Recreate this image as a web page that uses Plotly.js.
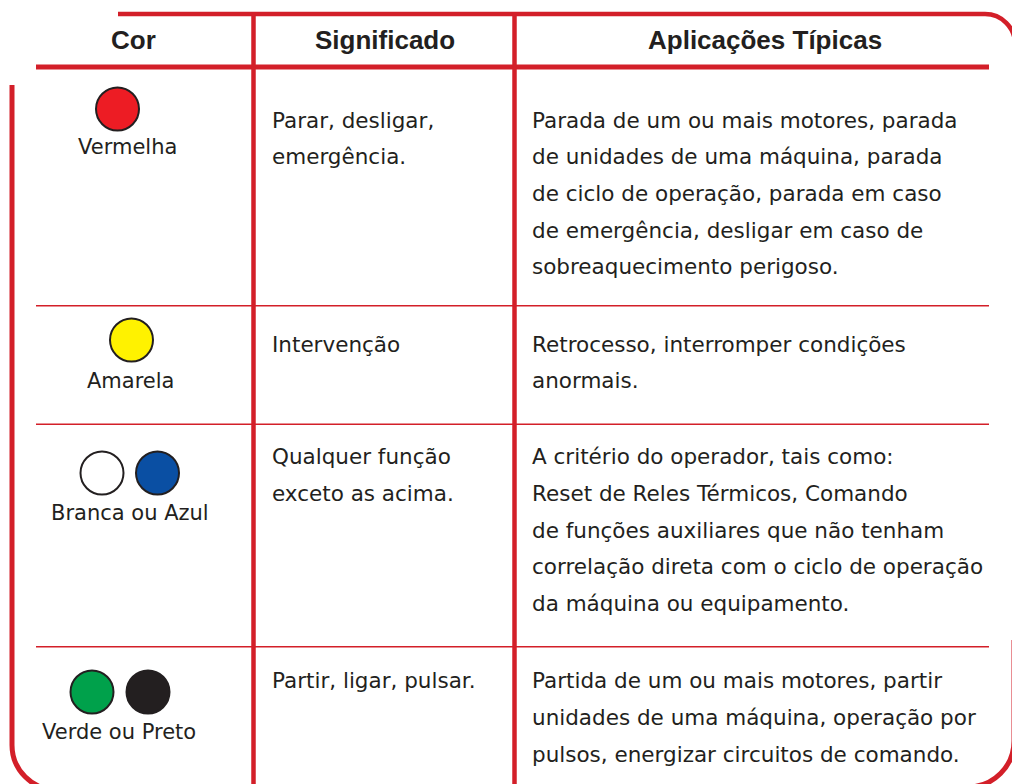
<!DOCTYPE html>
<html>
<head>
<meta charset="utf-8">
<script src="https://cdn.plot.ly/plotly-3.0.1.min.js"></script>
<style>
  html, body { margin: 0; padding: 0; background: #ffffff; overflow: hidden; }
  #chart { width: 1012px; height: 784px; }
</style>
</head>
<body>
<div id="chart"></div>
<script>
// ---------------- DATA ----------------
const headers = ['Cor', 'Significado', 'Aplicações Típicas'];
const colorNames = ['Vermelha', 'Amarela', 'Branca ou Azul', 'Verde ou Preto'];
const buttonFills = [
  ['#ed1c24'],
  ['#fff200'],
  ['#ffffff', '#0a4fa3'],
  ['#00a14b', '#231f20']
];
const meanings = [
  ['Parar, desligar,', 'emergência.'],
  ['Intervenção'],
  ['Qualquer função', 'exceto as acima.'],
  ['Partir, ligar, pulsar.']
];
const applications = [
  ['Parada de um ou mais motores, parada',
   'de unidades de uma máquina, parada',
   'de ciclo de operação, parada em caso',
   'de emergência, desligar em caso de',
   'sobreaquecimento perigoso.'],
  ['Retrocesso, interromper condições',
   'anormais.'],
  ['A critério do operador, tais como:',
   'Reset de Reles Térmicos, Comando',
   'de funções auxiliares que não tenham',
   'correlação direta com o ciclo de operação',
   'da máquina ou equipamento.'],
  ['Partida de um ou mais motores, partir',
   'unidades de uma máquina, operação por',
   'pulsos, energizar circuitos de comando.']
];

// ---------------- LAYOUT CONSTANTS ----------------
const W = 1012, H = 784;
const RED = '#d31f29';
const INK = '#231f20';
const BODY_FONT = 'DejaVu Sans';
const BODY_SIZE = 21.5;
const LABEL_SIZE = 21;
const HEAD_FONT = 'Liberation Sans';
const HEAD_SIZE = 26;

const HEAD_X = [133, 385, 765];
const HEAD_BASE = 49.5;
const ROW_BASE = [127.7, 351.7, 464.3, 688.3];
const LINE_STEP = 36.67;
const CIRCLE_Y = [109, 340, 473, 692];
const CIRCLE_X = [[117.5], [131.5], [102, 157.5], [92, 148]];
const LABEL_X = [127, 131, 130, 119];
const LABEL_BASE = [154, 388.3, 520.7, 739];
const COL2_X = 272, COL3_X = 532;
const SEP_Y = [305.7, 424.3, 646.7];

function midFromBase(base, size, asc, desc) {
  return base - (asc - desc) / 2 * size;
}

// ---------------- TRACES ----------------
const cx = [], cy = [], cfill = [];
buttonFills.forEach((fills, r) => {
  fills.forEach((f, i) => {
    cx.push(CIRCLE_X[r][i]);
    cy.push(CIRCLE_Y[r]);
    cfill.push(f);
  });
});
const circles = {
  type: 'scatter', mode: 'markers', x: cx, y: cy,
  marker: { size: 43, color: cfill, line: { color: INK, width: 2 } },
  hoverinfo: 'skip', showlegend: false
};

// ---------------- ANNOTATIONS ----------------
const ann = [];
headers.forEach((h, i) => {
  ann.push({
    x: HEAD_X[i], y: midFromBase(HEAD_BASE, HEAD_SIZE, 0.905, 0.212),
    xref: 'x', yref: 'y', text: '<b>' + h + '</b>', showarrow: false,
    xanchor: 'center', yanchor: 'middle', borderpad: 0, borderwidth: 0,
    font: { family: HEAD_FONT, size: HEAD_SIZE, color: INK }
  });
});
colorNames.forEach((n, r) => {
  ann.push({
    x: LABEL_X[r], y: midFromBase(LABEL_BASE[r], LABEL_SIZE, 0.928, 0.236),
    xref: 'x', yref: 'y', text: n, showarrow: false,
    xanchor: 'center', yanchor: 'middle', borderpad: 0, borderwidth: 0,
    font: { family: BODY_FONT, size: LABEL_SIZE, color: INK }
  });
});
function addLines(lines, r, xPos) {
  lines.forEach((t, k) => {
    ann.push({
      x: xPos, y: midFromBase(ROW_BASE[r] + k * LINE_STEP, BODY_SIZE, 0.928, 0.236),
      xref: 'x', yref: 'y', text: t, showarrow: false,
      xanchor: 'left', yanchor: 'middle', borderpad: 0, borderwidth: 0,
      font: { family: BODY_FONT, size: BODY_SIZE, color: INK }
    });
  });
}
meanings.forEach((lines, r) => addLines(lines, r, COL2_X));
applications.forEach((lines, r) => addLines(lines, r, COL3_X));

// ---------------- SHAPES ----------------
const k = 0.5523;
function lineShape(path, width) {
  return { type: 'path', xref: 'x', yref: 'y', path: path,
           line: { color: RED, width: width }, layer: 'below' };
}
const shapes = [];
// top border with rounded top-right corner
{
  const r = 30, x0 = 985, y0 = 14, xr = x0 + r;
  shapes.push(lineShape(
    `M118,${y0} L${x0},${y0} C${x0 + k * r},${y0} ${xr},${y0 + r - k * r} ${xr},${y0 + r} L${xr},140`, 4.5));
}
// left border with rounded bottom-left corner
{
  const r = 45, x0 = 12, yc = 745;
  shapes.push(lineShape(
    `M${x0},85 L${x0},${yc} C${x0},${yc + k * r} ${x0 + r - k * r},${yc + r} ${x0 + r},${yc + r} L140,${yc + r}`, 5));
}
// bottom-right corner
{
  const r = 46, xc = 968, yc = 741, xr = xc + r;
  shapes.push(lineShape(
    `M${xr},640 L${xr},${yc} C${xr},${yc + k * r} ${xc + k * r},${yc + r} ${xc},${yc + r} L880,${yc + r}`, 5));
}
// header bottom line
shapes.push(lineShape('M36,67 L989,67', 5));
// column dividers
shapes.push(lineShape('M253.5,14 L253.5,790', 4.5));
shapes.push(lineShape('M514.5,14 L514.5,790', 4.5));
// row separators
SEP_Y.forEach(y => shapes.push(lineShape(`M36,${y} L989,${y}`, 1.6)));

const layout = {
  width: W, height: H,
  margin: { l: 0, r: 0, t: 0, b: 0, pad: 0 },
  paper_bgcolor: '#ffffff', plot_bgcolor: '#ffffff',
  xaxis: { range: [0, W], visible: false, fixedrange: true },
  yaxis: { range: [H, 0], visible: false, fixedrange: true },
  showlegend: false,
  shapes: shapes,
  annotations: ann
};

Plotly.newPlot('chart', [circles], layout, { staticPlot: true, displayModeBar: false });
</script>
</body>
</html>
